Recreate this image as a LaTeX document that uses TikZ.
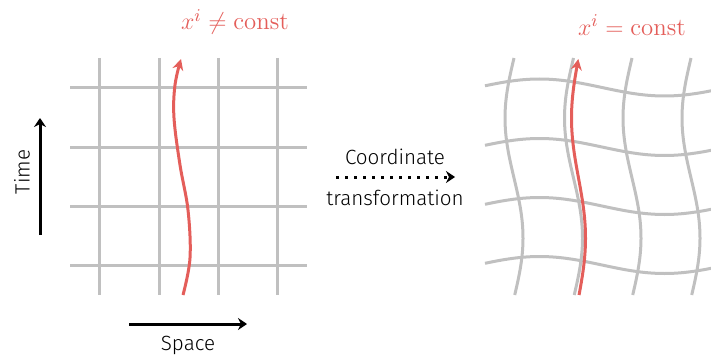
\documentclass[tikz,border=0pt]{standalone}
\usepackage{fontspec}
\setsansfont{Fira Sans}[UprightFont={* Light}]
\usetikzlibrary{arrows.meta}
\definecolor{gridgray}{RGB}{192,192,192}
\definecolor{wlred}{RGB}{228,94,90}
\tikzset{
  gridline/.style={gridgray, line width=1.5pt},
  worldline/.style={wlred, line width=1.5pt, -{Stealth[length=5.5pt,width=5.5pt]}},
  axisarrow/.style={black, line width=1.5pt, -{Stealth[length=4.5pt,width=6pt]}},
  transarrow/.style={black, line width=1.5pt, dash pattern=on 1.5pt off 3pt, -{Stealth[length=4.5pt,width=6pt]}},
  sanslabel/.style={font=\sffamily\fontsize{10.3}{12}\selectfont, inner sep=0pt},
  mathlabel/.style={wlred, font=\fontsize{12.4}{14}\selectfont, inner sep=0pt},
}
\begin{document}
\begin{tikzpicture}[x=0.5pt, y=-0.5pt]
\useasboundingbox (0,0) rectangle (711,358);
% ---------- left grid ----------
\foreach \gx in {99,159,218,277} \draw[gridline] (\gx,58) -- (\gx,295);
\foreach \gy in {88,147,206,265} \draw[gridline] (70,\gy) -- (307,\gy);
\draw[worldline] plot[smooth, tension=0.6] coordinates {(183,295) (190,258) (188,210) (180,165) (174,118) (175,85) (181,59)};
\node[mathlabel] (neq) at (235,22) {$x^i \neq \mathrm{const}$};
% ---------- axes ----------
\coordinate (t0) at (40,235);
\coordinate (t1) at (40,118);
\draw[axisarrow] (t0) -- (t1);
\node[sanslabel, rotate=90] (time) at (22,172) {Time};
\coordinate (s0) at (129,324);
\coordinate (s1) at (247,324);
\draw[axisarrow] (s0) -- (s1);
\node[sanslabel, anchor=base] (space) at (188,350) {Space};
% ---------- transformation ----------
\coordinate (c0) at (336,177);
\coordinate (c1) at (455,177);
\draw[transarrow] (c0) -- (c1);
\node[sanslabel, anchor=base] (coord) at (395,164) {Coordinate};
\node[sanslabel, anchor=base] (trans) at (395,205) {transformation};
% ---------- right grid ----------
\begin{scope}
\clip (480,40) rectangle (711,300);
\foreach \gy in {87.5,147,206,265}
  \draw[gridline] plot[domain=485:715, samples=60, variable=\t] (\t, {\gy - 8.5*sin(1.44*(\t-477))});
\foreach \gx in {514,573.5,632,691}
  \draw[gridline] plot[domain=58:295, samples=60, variable=\t] ({\gx - 9*sin(1.5*(\t-58))}, \t);
\end{scope}
\draw[wlred, line width=1.5pt, {Stealth[length=5.5pt,width=5.5pt]}-] plot[domain=59:295, samples=60, variable=\t] ({578.5 - 7*sin(1.5*(\t-58))}, \t);
\node[mathlabel] (eq) at (632,25) {$x^i = \mathrm{const}$};
\end{tikzpicture}
\end{document}
